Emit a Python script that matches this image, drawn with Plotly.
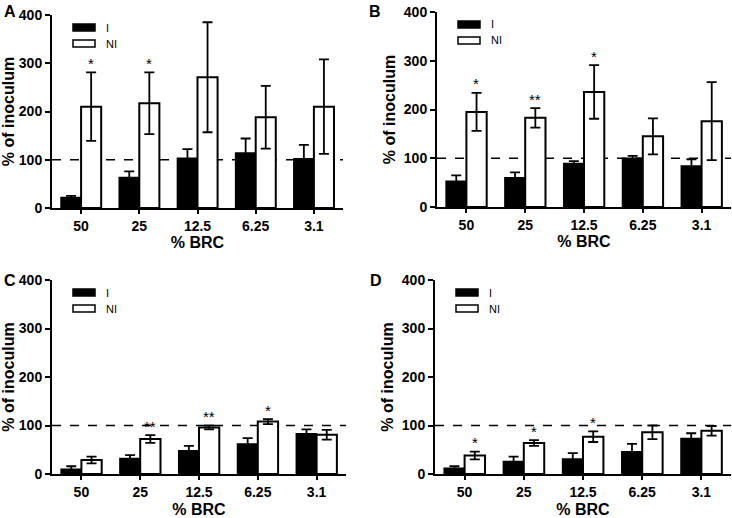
import plotly.graph_objects as go
from plotly.subplots import make_subplots

categories = ["50", "25", "12.5", "6.25", "3.1"]
yticks = [0, 100, 200, 300, 400]

A_I = [22, 63, 103, 114, 102]
A_I_err = [3, 13, 19, 30, 29]
A_NI = [210, 217, 271, 188, 210]
A_NI_err = [71, 64, 114, 65, 98]
A_stars = ["*", "*", "", "", ""]

B_I = [53, 60, 89, 100, 84]
B_I_err = [12, 11, 5, 5, 14]
B_NI = [195, 183, 236, 145, 176]
B_NI_err = [39, 20, 55, 37, 80]
B_stars = ["*", "**", "*", "", ""]

C_I = [10, 32, 48, 62, 83]
C_I_err = [6, 7, 10, 12, 9]
C_NI = [29, 72, 96, 108, 81]
C_NI_err = [7, 8, 4, 5, 10]
C_stars = ["", "**", "**", "*", ""]

D_I = [12, 26, 31, 46, 73]
D_I_err = [4, 10, 12, 16, 11]
D_NI = [38, 64, 77, 86, 89]
D_NI_err = [8, 6, 11, 14, 10]
D_stars = ["*", "*", "*", "", ""]

W, H = 732, 518
# panel pixel boxes: (left, right, top, bottom)
boxes = {
    "A": (52, 343, 15, 208),
    "B": (437, 731, 12, 207),
    "C": (52, 346, 280, 474),
    "D": (435, 731, 280, 474),
}
letters_pos = {"A": (2, 1), "B": (367, 1), "C": (2, 270), "D": (368, 270)}

panels = [
    ("A", 1, 1, A_I, A_I_err, A_NI, A_NI_err, A_stars),
    ("B", 1, 2, B_I, B_I_err, B_NI, B_NI_err, B_stars),
    ("C", 2, 1, C_I, C_I_err, C_NI, C_NI_err, C_stars),
    ("D", 2, 2, D_I, D_I_err, D_NI, D_NI_err, D_stars),
]

fig = make_subplots(rows=2, cols=2)

FAM = "Liberation Sans, Arial, sans-serif"
bold = dict(family=FAM, size=14, color="black", weight="bold")
title_font = dict(family=FAM, size=16, color="black", weight="bold")

for idx, (name, r, c, vi, ei, vn, en, stars) in enumerate(panels):
    fig.add_trace(go.Bar(x=categories, y=vi, name="I",
                         marker=dict(color="black", line=dict(color="black", width=1.5)),
                         error_y=dict(type="data", array=ei, color="black", thickness=1.8, width=5),
                         showlegend=False), row=r, col=c)
    fig.add_trace(go.Bar(x=categories, y=vn, name="NI",
                         marker=dict(color="white", line=dict(color="black", width=2)),
                         error_y=dict(type="data", array=en, color="black", thickness=1.8, width=5),
                         showlegend=False), row=r, col=c)
    L, R, T, B = boxes[name]
    sfx = "" if idx == 0 else str(idx + 1)
    xa = "xaxis" + sfx
    ya = "yaxis" + sfx
    pw, ph = R - L, B - T
    fig.layout[xa].update(domain=[L / W, R / W], type="category", range=[-0.5, 4.5],
                          showline=True, linewidth=2, linecolor="black",
                          ticks="outside", ticklen=4, tickwidth=2, tickcolor="black",
                          showgrid=False, zeroline=False, tickfont=bold, automargin=False,
                          title=dict(text="% BRC", font=title_font, standoff=0 if r == 1 else 6))
    fig.layout[ya].update(domain=[1 - B / H, 1 - T / H], range=[0, 400], tickvals=yticks,
                          showline=True, linewidth=2, linecolor="black", ticks="outside",
                          ticklen=5, tickwidth=2, tickcolor="black", automargin=False,
                          showgrid=False, zeroline=False, tickfont=bold,
                          title=dict(text="% of inoculum", font=title_font, standoff=4))
    xr = "x" + sfx
    yr = "y" + sfx
    # dashed reference line at 100%
    fig.add_shape(type="line", xref=xr + " domain", yref=yr, x0=0, x1=1, y0=100, y1=100,
                  layer="below", line=dict(color="black", width=1.6, dash="dash"))
    # legend swatches
    def dx(p):
        return p / pw
    def dy(p):
        return 1 - p / ph
    fig.add_shape(type="rect", xref=xr + " domain", yref=yr + " domain",
                  x0=dx(21), x1=dx(43), y0=dy(16), y1=dy(9),
                  fillcolor="black", line=dict(color="black", width=1.5))
    fig.add_shape(type="rect", xref=xr + " domain", yref=yr + " domain",
                  x0=dx(21), x1=dx(43), y0=dy(32), y1=dy(25),
                  fillcolor="white", line=dict(color="black", width=1.5))
    for lab, yc in (("I", 12.5), ("NI", 28.5)):
        fig.add_annotation(xref=xr + " domain", yref=yr + " domain", x=dx(52), y=dy(yc),
                           text=lab, showarrow=False, xanchor="left", yanchor="middle",
                           font=dict(family=FAM, size=11, color="black"))
    # significance stars
    for i, (v, e, s) in enumerate(zip(vn, en, stars)):
        if s:
            fig.add_annotation(xref=xr, yref=yr, x=i, y=v + e, text=s, showarrow=False,
                               xanchor="center", yanchor="middle", xshift=10, yshift=9,
                               font=dict(family=FAM, size=15, color="black"))
    # panel letter
    lx, ly = letters_pos[name]
    fig.add_annotation(xref="paper", yref="paper", x=lx / W, y=1 - ly / H, text=name,
                       showarrow=False, xanchor="left", yanchor="top",
                       font=dict(family=FAM, size=16, color="black", weight="bold"))

fig.update_layout(width=W, height=H, margin=dict(l=0, r=0, t=0, b=0),
                  plot_bgcolor="white", paper_bgcolor="white",
                  barmode="group", bargap=0.31, bargroupgap=0)

fig.write_html("out.html", config={"displayModeBar": False},
               post_script="document.body.style.margin='0';")
